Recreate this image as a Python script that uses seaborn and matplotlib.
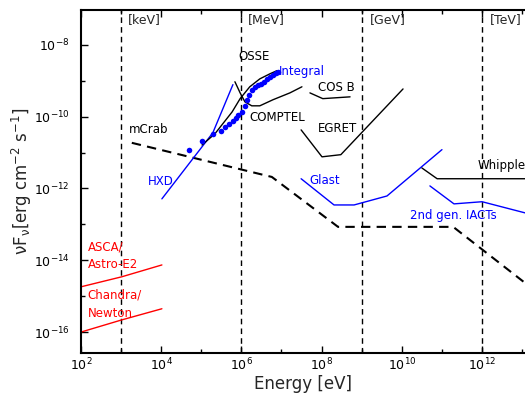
import matplotlib

matplotlib.use("Agg")
import matplotlib.pyplot as plt
import numpy as np
import pandas as pd
import seaborn as sns

BLUE = "#0000ff"
RED = "#ff0000"

# all values are log10(E / eV) and log10(nuFnu / erg cm^-2 s^-1)
mcrab_loge = [3.27, 6.76, 8.41, 11.28, 13.07]
mcrab_logf = [-10.73, -11.68, -13.07, -13.07, -14.63]

hxd_loge = [4.02, 5.29, 5.79]
hxd_logf = [-12.29, -10.45, -9.11]

integral_loge = [4.69, 5.02, 5.29, 5.49, 5.59, 5.69, 5.79, 5.87, 5.92, 6.02, 6.09,
                 6.14, 6.19, 6.26, 6.34, 6.41, 6.49, 6.56, 6.64, 6.71, 6.79, 6.86, 6.91]
integral_logf = [-10.92, -10.67, -10.48, -10.40, -10.28, -10.20, -10.12, -10.03, -9.95,
                 -9.87, -9.70, -9.53, -9.39, -9.25, -9.17, -9.11, -9.09, -9.03, -8.95,
                 -8.89, -8.84, -8.78, -8.75]

osse_loge = [5.02, 5.34, 5.77, 5.97, 6.21, 6.46, 6.71, 6.89]
osse_logf = [-10.79, -10.48, -9.87, -9.50, -9.17, -8.95, -8.81, -8.72]

comptel_loge = [5.84, 5.97, 6.09, 6.26, 6.46, 6.79, 7.21, 7.51]
comptel_logf = [-9.03, -9.34, -9.59, -9.70, -9.70, -9.53, -9.34, -9.17]

cosb_loge = [7.71, 8.03, 8.71]
cosb_logf = [-9.34, -9.50, -9.45]

egret_loge = [7.49, 8.01, 8.48, 10.03]
egret_logf = [-10.37, -11.12, -11.06, -9.23]

glast_loge = [7.49, 8.31, 8.81, 9.63, 11.0]
glast_logf = [-11.73, -12.46, -12.46, -12.21, -10.92]

iact_loge = [10.70, 11.30, 12.0, 13.07]
iact_logf = [-11.93, -12.43, -12.37, -12.68]

whipple_loge = [10.50, 10.88, 13.07]
whipple_logf = [-11.43, -11.73, -11.73]

asca_loge = [2.0, 3.02, 4.02]
asca_logf = [-14.74, -14.46, -14.13]

chandra_loge = [2.0, 3.02, 4.02]
chandra_logf = [-16.0, -15.66, -15.35]

unit_lines = [1e3, 1e6, 1e9, 1e12]
unit_names = ["[keV]", "[MeV]", "[GeV]", "[TeV]"]


def to_df(loge, logf):
    return pd.DataFrame({"E": np.power(10.0, loge), "F": np.power(10.0, logf)})


def draw(ax, loge, logf, color="black", **kw):
    sns.lineplot(data=to_df(loge, logf), x="E", y="F", ax=ax, color=color,
                 sort=False, estimator=None, **kw)


sns.set_style("ticks")
plt.rcParams["font.family"] = ["DejaVu Sans"]
plt.rcParams["mathtext.fontset"] = "dejavusans"
plt.rcParams["mathtext.default"] = "regular"

fig = plt.figure(figsize=(5.25, 3.97), dpi=100)
ax = fig.add_axes([0.154, 0.111, 0.846, 0.864])
ax.set_xscale("log")
ax.set_yscale("log")

for xv in unit_lines:
    ax.axvline(xv, color="black", lw=1.0, ls=(0, (4, 3)))

draw(ax, mcrab_loge, mcrab_logf, lw=1.5, ls=(0, (4.5, 3)))
draw(ax, hxd_loge, hxd_logf, BLUE, lw=1.0)
draw(ax, osse_loge, osse_logf, lw=1.0)
draw(ax, comptel_loge, comptel_logf, lw=1.0)
draw(ax, cosb_loge, cosb_logf, lw=1.0)
draw(ax, egret_loge, egret_logf, lw=1.0)
draw(ax, glast_loge, glast_logf, BLUE, lw=1.0)
draw(ax, iact_loge, iact_logf, BLUE, lw=1.0)
draw(ax, whipple_loge, whipple_logf, lw=1.0)
draw(ax, asca_loge, asca_logf, RED, lw=1.0)
draw(ax, chandra_loge, chandra_logf, RED, lw=1.0)
sns.scatterplot(data=to_df(integral_loge, integral_logf), x="E", y="F", ax=ax,
                color=BLUE, s=16, linewidth=0, zorder=3)

ax.set_xlim(1e2, 10 ** 13.07)
ax.set_ylim(10 ** -16.58, 10 ** -7.03)

ax.set_xticks([10.0 ** k for k in range(2, 14, 2)])
ax.set_xticklabels([f"$10^{{{k}}}$" for k in range(2, 14, 2)])
ax.set_xticks([10.0 ** k for k in range(3, 14, 2)], minor=True)
ax.set_yticks([10.0 ** k for k in range(-16, -7, 2)])
ax.set_yticklabels([f"$10^{{{k}}}$" for k in range(-16, -7, 2)])
ax.set_yticks([10.0 ** k for k in range(-15, -7, 2)], minor=True)
ax.tick_params(which="both", direction="in", top=True, right=False, width=1.0,
               labelsize=9, colors="black")
ax.tick_params(which="major", length=5)
ax.tick_params(which="minor", length=3, labelleft=False, labelbottom=False)
ax.tick_params(axis="x", pad=3)
ax.tick_params(axis="y", pad=8)

for side in ["left", "bottom", "top"]:
    ax.spines[side].set_linewidth(1.5)
    ax.spines[side].set_color("black")
ax.spines["right"].set_visible(False)

ax.set_xlabel("Energy [eV]", fontsize=12, labelpad=1)
ax.set_ylabel(r"$\nu F_\nu$[erg cm$^{-2}$ s$^{-1}$]", fontsize=12)
ax.yaxis.set_label_coords(-0.106, 0.5)

for xv, name in zip([3.17, 6.16, 9.21, 12.2], unit_names):
    ax.text(10 ** xv, 10 ** -7.30, name, fontsize=9, va="center", ha="left")

labels = [
    ("OSSE", 5.92, -8.33, "black"),
    ("Integral", 6.94, -8.75, BLUE),
    ("COS B", 7.91, -9.20, "black"),
    ("COMPTEL", 6.19, -10.03, "black"),
    ("EGRET", 7.91, -10.34, "black"),
    ("mCrab", 3.20, -10.37, "black"),
    ("HXD", 3.67, -11.82, BLUE),
    ("Glast", 7.69, -11.79, BLUE),
    ("2nd gen. IACTs", 10.2, -12.76, BLUE),
    ("Whipple", 11.88, -11.37, "black"),
    ("ASCA/", 2.17, -13.63, RED),
    ("Astro-E2", 2.17, -14.13, RED),
    ("Chandra/", 2.17, -14.96, RED),
    ("Newton", 2.17, -15.47, RED),
]
for txt, lx, ly, col in labels:
    ax.text(10 ** lx, 10 ** ly, txt, fontsize=8.5, color=col, va="center", ha="left")

fig.savefig("out.png", dpi=100)
